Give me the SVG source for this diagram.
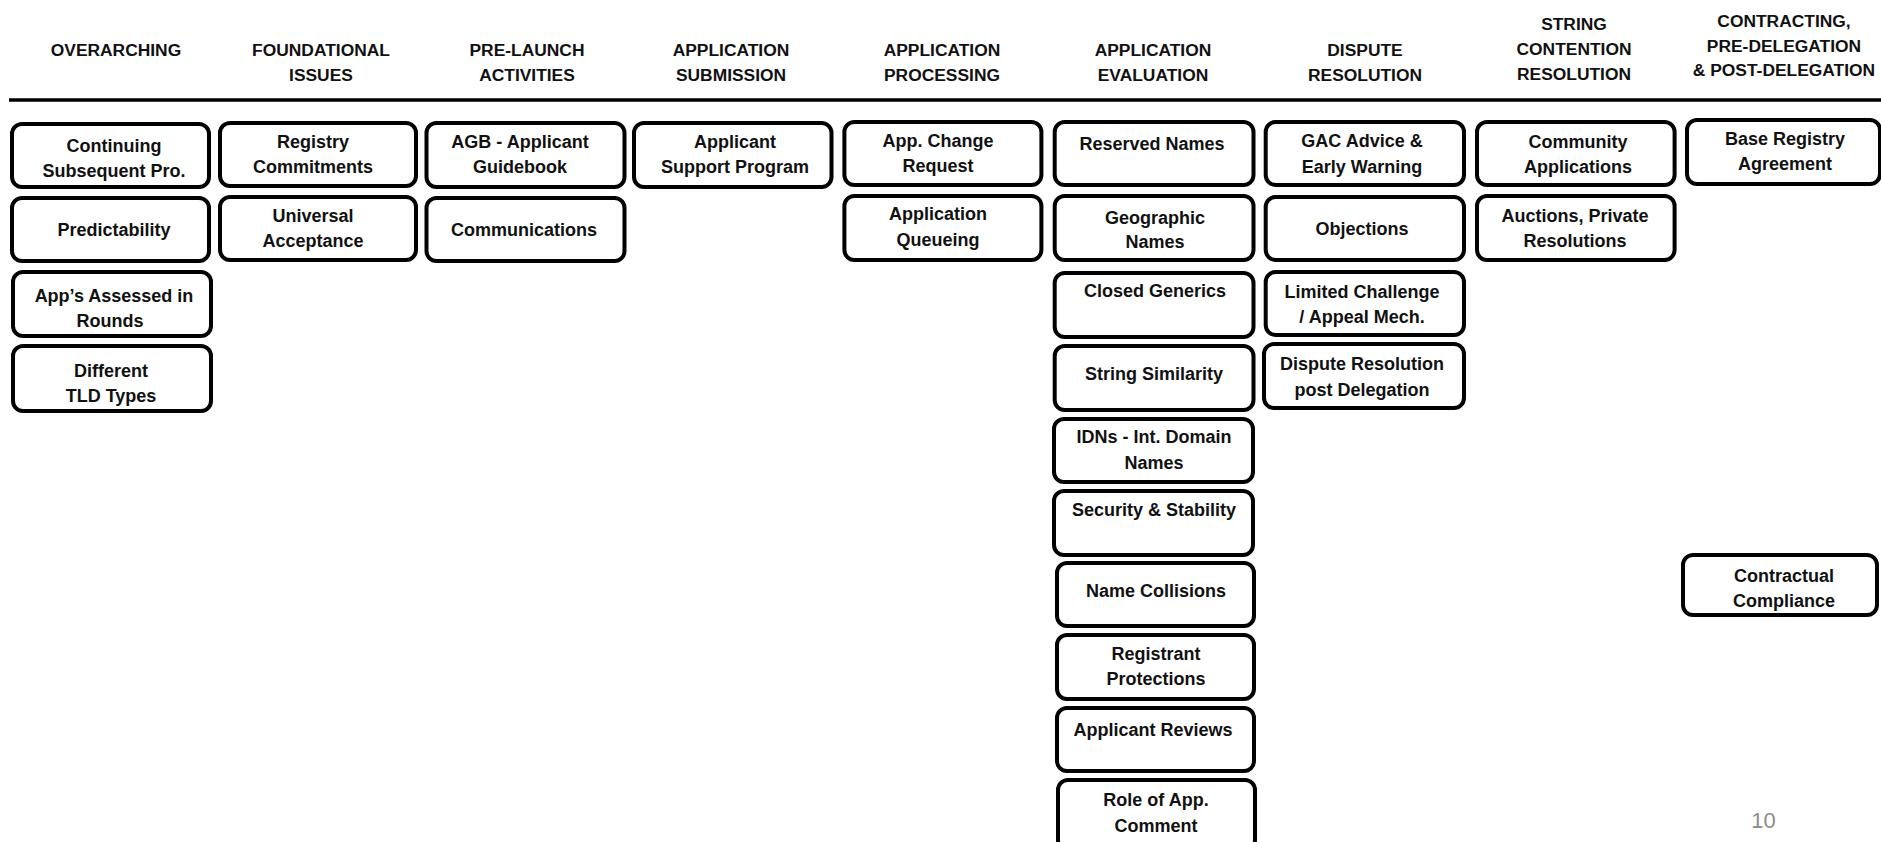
<svg xmlns="http://www.w3.org/2000/svg" width="1881" height="842" viewBox="0 0 1881 842">
<style>
.bg{fill:#ffffff}
.hd{font-family:"Liberation Sans",Arial,sans-serif;font-weight:bold;font-size:17.4px;fill:#111;text-anchor:middle}
.box{fill:#ffffff;stroke:#000;stroke-width:4}
.t{font-family:"Liberation Sans",Arial,sans-serif;font-weight:bold;font-size:18px;fill:#111;text-anchor:middle}
.pg{font-family:"Liberation Sans",Arial,sans-serif;font-size:22px;fill:#8c8c8c;text-anchor:middle}
</style>
<rect class="bg" x="0" y="0" width="1881" height="842"/>
<g id="headers">
<text class="hd" x="116" y="56">OVERARCHING</text>
<text class="hd" x="321" y="56">FOUNDATIONAL</text>
<text class="hd" x="321" y="81">ISSUES</text>
<text class="hd" x="527" y="56">PRE-LAUNCH</text>
<text class="hd" x="527" y="81">ACTIVITIES</text>
<text class="hd" x="731" y="56">APPLICATION</text>
<text class="hd" x="731" y="81">SUBMISSION</text>
<text class="hd" x="942" y="56">APPLICATION</text>
<text class="hd" x="942" y="81">PROCESSING</text>
<text class="hd" x="1153" y="56">APPLICATION</text>
<text class="hd" x="1153" y="81">EVALUATION</text>
<text class="hd" x="1365" y="56">DISPUTE</text>
<text class="hd" x="1365" y="81">RESOLUTION</text>
<text class="hd" x="1574" y="30">STRING</text>
<text class="hd" x="1574" y="55">CONTENTION</text>
<text class="hd" x="1574" y="80">RESOLUTION</text>
<text class="hd" x="1784" y="27">CONTRACTING,</text>
<text class="hd" x="1784" y="52">PRE-DELEGATION</text>
<text class="hd" x="1784" y="76">&amp; POST-DELEGATION</text>
</g>
<g id="connectors">
<line x1="9" y1="100" x2="1881" y2="100" stroke="#000" stroke-width="3.4"/>
</g>
<g id="n-continuing"><rect class="box" x="12" y="124" width="197" height="63" rx="10"/><text class="t" x="114" y="152">Continuing</text><text class="t" x="114" y="177">Subsequent Pro.</text></g>
<g id="n-predictability"><rect class="box" x="12" y="198" width="197" height="63" rx="10"/><text class="t" x="114" y="236">Predictability</text></g>
<g id="n-rounds"><rect class="box" x="13" y="272" width="198" height="64" rx="10"/><text class="t" x="114" y="302">App’s Assessed in</text><text class="t" x="110" y="327">Rounds</text></g>
<g id="n-tldtypes"><rect class="box" x="13" y="346" width="198" height="65" rx="10"/><text class="t" x="111" y="377">Different</text><text class="t" x="111" y="402">TLD Types</text></g>

<g id="n-registry"><rect class="box" x="220" y="123" width="196" height="63" rx="10"/><text class="t" x="313" y="148">Registry</text><text class="t" x="313" y="173">Commitments</text></g>
<g id="n-universal"><rect class="box" x="220" y="197" width="196" height="63" rx="10"/><text class="t" x="313" y="222">Universal</text><text class="t" x="313" y="247">Acceptance</text></g>

<g id="n-agb"><rect class="box" x="426.5" y="123" width="198" height="64" rx="10"/><text class="t" x="520" y="148">AGB - Applicant</text><text class="t" x="520" y="173">Guidebook</text></g>
<g id="n-communications"><rect class="box" x="426.5" y="198" width="198" height="63" rx="10"/><text class="t" x="524" y="236">Communications</text></g>

<g id="n-support"><rect class="box" x="634" y="123" width="197.5" height="64" rx="10"/><text class="t" x="735" y="148">Applicant</text><text class="t" x="735" y="173">Support Program</text></g>

<g id="n-change"><rect class="box" x="844.4" y="122" width="197" height="63" rx="10"/><text class="t" x="938" y="147">App. Change</text><text class="t" x="938" y="172">Request</text></g>
<g id="n-queueing"><rect class="box" x="844.4" y="196" width="197" height="64" rx="10"/><text class="t" x="938" y="220">Application</text><text class="t" x="938" y="246">Queueing</text></g>

<g id="n-reserved"><rect class="box" x="1054.7" y="122" width="198.8" height="63" rx="10"/><text class="t" x="1152" y="150">Reserved Names</text></g>
<g id="n-geographic"><rect class="box" x="1054.7" y="196" width="198.8" height="64" rx="10"/><text class="t" x="1155" y="224">Geographic</text><text class="t" x="1155" y="248">Names</text></g>
<g id="n-closed"><rect class="box" x="1054.7" y="273" width="198.8" height="64" rx="10"/><text class="t" x="1155" y="297">Closed Generics</text></g>
<g id="n-similarity"><rect class="box" x="1054.7" y="346" width="198.8" height="64" rx="10"/><text class="t" x="1154" y="380">String Similarity</text></g>
<g id="n-idns"><rect class="box" x="1054" y="419" width="199" height="63" rx="10"/><text class="t" x="1154" y="443">IDNs - Int. Domain</text><text class="t" x="1154" y="469">Names</text></g>
<g id="n-security"><rect class="box" x="1054" y="491" width="199" height="64" rx="10"/><text class="t" x="1154" y="516">Security &amp; Stability</text></g>
<g id="n-collisions"><rect class="box" x="1057" y="563" width="197" height="63" rx="10"/><text class="t" x="1156" y="597">Name Collisions</text></g>
<g id="n-registrant"><rect class="box" x="1057" y="635" width="197" height="64" rx="10"/><text class="t" x="1156" y="660">Registrant</text><text class="t" x="1156" y="685">Protections</text></g>
<g id="n-reviews"><rect class="box" x="1057" y="708" width="197" height="63" rx="10"/><text class="t" x="1153" y="736">Applicant Reviews</text></g>
<g id="n-comment"><rect class="box" x="1058" y="780" width="197" height="70" rx="10"/><text class="t" x="1156" y="806">Role of App.</text><text class="t" x="1156" y="832">Comment</text></g>

<g id="n-gac"><rect class="box" x="1265.7" y="122" width="198.3" height="63" rx="10"/><text class="t" x="1362" y="147">GAC Advice &amp;</text><text class="t" x="1362" y="173">Early Warning</text></g>
<g id="n-objections"><rect class="box" x="1265.7" y="197" width="198.3" height="63" rx="10"/><text class="t" x="1362" y="235">Objections</text></g>
<g id="n-limited"><rect class="box" x="1265.7" y="272" width="198.3" height="63" rx="10"/><text class="t" x="1362" y="298">Limited Challenge</text><text class="t" x="1362" y="323">/ Appeal Mech.</text></g>
<g id="n-postdelegation"><rect class="box" x="1264" y="344" width="200" height="64" rx="10"/><text class="t" x="1362" y="370">Dispute Resolution</text><text class="t" x="1362" y="396">post Delegation</text></g>

<g id="n-community"><rect class="box" x="1477" y="122" width="197.6" height="63" rx="10"/><text class="t" x="1578" y="148">Community</text><text class="t" x="1578" y="173">Applications</text></g>
<g id="n-auctions"><rect class="box" x="1477" y="196" width="197.6" height="64" rx="10"/><text class="t" x="1575" y="222">Auctions, Private</text><text class="t" x="1575" y="247">Resolutions</text></g>

<g id="n-base"><rect class="box" x="1687" y="120" width="193" height="64" rx="10"/><text class="t" x="1785" y="145">Base Registry</text><text class="t" x="1785" y="170">Agreement</text></g>
<g id="n-compliance"><rect class="box" x="1683" y="555" width="194" height="60" rx="10"/><text class="t" x="1784" y="582">Contractual</text><text class="t" x="1784" y="607">Compliance</text></g>

<text class="pg" x="1763.5" y="828">10</text>
</svg>
